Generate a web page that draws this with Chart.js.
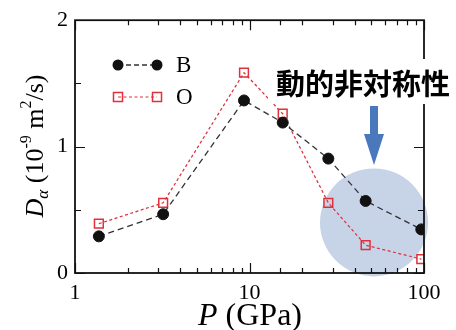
<!DOCTYPE html>
<html>
<head>
<meta charset="utf-8">
<script src="https://cdn.jsdelivr.net/npm/chart.js@4"></script>
<style>
  html, body { margin: 0; padding: 0; background: #fff; }
  #wrap { width: 456px; height: 330px; }
</style>
</head>
<body>
<div id="wrap"><canvas id="c" width="456" height="330"></canvas></div>
<script>
// Pressure (GPa) and diffusion coefficients (10^-9 m^2/s)
const pressure = [1.37, 3.2, 9.3, 15.5, 28.3, 46.3, 96.5];
const diffB = [0.29, 0.465, 1.365, 1.19, 0.905, 0.57, 0.345];
const diffO = [0.39, 0.555, 1.585, 1.26, 0.555, 0.22, 0.11];
const seriesNames = ['B', 'O'];
const xTickLabels = [1, 10, 100];
const yTickLabels = [0, 1, 2];
const noteText = '動的非対称性';

const SERIF = '"Liberation Serif", "Times New Roman", serif';
const BLACK = '#111';
const RED = '#e0303c';

const toPts = (xs, ys) => xs.map((x, i) => ({ x: x, y: ys[i] }));

// Inward tick marks on all four sides plus the axis frame
const framePlugin = {
  id: 'frame',
  afterDatasetsDraw(chart) {
    const { ctx, chartArea: a, scales } = chart;
    ctx.save();
    ctx.strokeStyle = BLACK;
    ctx.lineWidth = 1.2;
    scales.x.ticks.forEach(t => {
      const px = Math.round(scales.x.getPixelForValue(t.value)) + 0.5;
      const lg = Math.log10(t.value);
      const len = Math.abs(lg - Math.round(lg)) < 1e-9 ? 10 : 5;
      ctx.beginPath();
      ctx.moveTo(px, a.bottom); ctx.lineTo(px, a.bottom - len);
      ctx.moveTo(px, a.top); ctx.lineTo(px, a.top + len);
      ctx.stroke();
    });
    scales.y.ticks.forEach(t => {
      const py = Math.round(scales.y.getPixelForValue(t.value)) + 0.5;
      const len = Number.isInteger(t.value) ? 10 : 6;
      ctx.beginPath();
      ctx.moveTo(a.left, py); ctx.lineTo(a.left + len, py);
      ctx.moveTo(a.right, py); ctx.lineTo(a.right - len, py);
      ctx.stroke();
    });
    ctx.lineWidth = 1.8;
    ctx.strokeRect(a.left, a.top, a.right - a.left, a.bottom - a.top);
    ctx.restore();
  }
};

// Shaded region, arrow and note for the high-pressure range
const notePlugin = {
  id: 'note',
  beforeDatasetsDraw(chart) {
    const { ctx, scales } = chart;
    const cx = scales.x.getPixelForValue(51.7);
    const cy = scales.y.getPixelForValue(0.40);
    ctx.save();
    ctx.fillStyle = 'rgba(194, 207, 229, 0.92)';
    ctx.beginPath();
    ctx.arc(cx, cy, 54, 0, Math.PI * 2);
    ctx.fill();
    ctx.restore();
  },
  afterDraw(chart) {
    const { ctx, scales } = chart;
    const ax = scales.x.getPixelForValue(51.7);
    ctx.save();
    // white band behind the note
    ctx.fillStyle = '#fff';
    ctx.fillRect(268, 59, 188, 45);
    ctx.font = 'bold 29px "Noto Sans CJK JP", sans-serif';
    ctx.fillStyle = '#000';
    ctx.textAlign = 'center';
    ctx.textBaseline = 'middle';
    ctx.fillText(noteText, 363, 84);
    // arrow
    ctx.fillStyle = '#4a78bd';
    ctx.beginPath();
    ctx.moveTo(ax - 4, 106);
    ctx.lineTo(ax + 4, 106);
    ctx.lineTo(ax + 4, 134);
    ctx.lineTo(ax + 10, 134);
    ctx.lineTo(ax, 165);
    ctx.lineTo(ax - 10, 134);
    ctx.lineTo(ax - 4, 134);
    ctx.closePath();
    ctx.fill();
    ctx.restore();
  }
};

// Legend with a marker at each end of a dashed segment
const legendPlugin = {
  id: 'legendMarks',
  afterDraw(chart) {
    const { ctx } = chart;
    ctx.save();
    const x0 = 118, x1 = 157;
    // B
    let y = 65;
    ctx.strokeStyle = '#333'; ctx.lineWidth = 1.3; ctx.setLineDash([5, 3]);
    ctx.beginPath(); ctx.moveTo(x0, y); ctx.lineTo(x1, y); ctx.stroke();
    ctx.setLineDash([]);
    ctx.fillStyle = BLACK;
    [x0, x1].forEach(x => { ctx.beginPath(); ctx.arc(x, y, 5.5, 0, Math.PI * 2); ctx.fill(); });
    // O
    y = 97;
    ctx.strokeStyle = RED; ctx.lineWidth = 1.2; ctx.setLineDash([3, 2.5]);
    ctx.beginPath(); ctx.moveTo(x0, y); ctx.lineTo(x1, y); ctx.stroke();
    ctx.setLineDash([]);
    ctx.lineWidth = 1.5;
    [x0, x1].forEach(x => { ctx.strokeRect(x - 4.5, y - 4.5, 9, 9); });
    ctx.fillStyle = '#000';
    ctx.font = '23px ' + SERIF;
    ctx.textAlign = 'left'; ctx.textBaseline = 'middle';
    ctx.fillText(seriesNames[0], 176, 66);
    ctx.fillText(seriesNames[1], 176, 98);
    ctx.restore();
  }
};

// Axis titles with italics, subscript and superscripts
const titlePlugin = {
  id: 'titles',
  afterDraw(chart) {
    const { ctx } = chart;
    ctx.save();
    ctx.fillStyle = '#000';
    ctx.textBaseline = 'alphabetic';
    // x title: P (GPa)
    const big = '32px ' + SERIF, bigI = 'italic 32px ' + SERIF;
    ctx.font = bigI; const wP = ctx.measureText('P').width;
    ctx.font = big; const wR = ctx.measureText(' (GPa)').width;
    let x = 250 - (wP + wR) / 2;
    ctx.font = bigI; ctx.fillText('P', x, 325);
    ctx.font = big; ctx.fillText(' (GPa)', x + wP, 325);

    // y title: D_alpha (10^-9 m^2/s), rotated
    const parts = [
      { t: 'D', f: 'italic 26px ' + SERIF, dy: 0 },
      { t: 'α', f: 'italic 17px ' + SERIF, dy: 5 },
      { t: ' (10', f: '26px ' + SERIF, dy: 0 },
      { t: '-9', f: '16px ' + SERIF, dy: -12 },
      { t: ' m', f: '26px ' + SERIF, dy: 0 },
      { t: '2', f: '16px ' + SERIF, dy: -12 },
      { t: '/s)', f: '26px ' + SERIF, dy: 0 }
    ];
    let total = 0;
    parts.forEach(p => { ctx.font = p.f; p.w = ctx.measureText(p.t).width; total += p.w; });
    ctx.translate(43, 146);
    ctx.rotate(-Math.PI / 2);
    let px = -total / 2;
    parts.forEach(p => { ctx.font = p.f; ctx.fillText(p.t, px, p.dy); px += p.w; });
    ctx.restore();
  }
};

new Chart(document.getElementById('c'), {
  type: 'scatter',
  data: {
    datasets: [
      {
        label: seriesNames[0],
        data: toPts(pressure, diffB),
        showLine: true,
        borderColor: '#333',
        borderWidth: 1.3,
        borderDash: [6, 4],
        pointStyle: 'circle',
        pointRadius: 5.5,
        pointBackgroundColor: BLACK,
        pointBorderColor: BLACK,
        pointBorderWidth: 1
      },
      {
        label: seriesNames[1],
        data: toPts(pressure, diffO),
        showLine: true,
        borderColor: RED,
        borderWidth: 1.25,
        borderDash: [3, 2.5],
        pointStyle: 'rect',
        pointRadius: 6.2,
        pointBackgroundColor: 'rgba(0,0,0,0)',
        pointBorderColor: RED,
        pointBorderWidth: 1.5
      }
    ]
  },
  options: {
    responsive: false,
    animation: false,
    devicePixelRatio: 1,
    layout: { padding: { left: 0, top: 18, right: 32, bottom: 0 } },
    plugins: { legend: { display: false }, tooltip: { enabled: false } },
    scales: {
      x: {
        type: 'logarithmic',
        min: 1, max: 100,
        grid: { display: false, drawTicks: false },
        border: { display: false },
        afterFit(scale) { scale.height = 57; },
        ticks: {
          autoSkip: false,
          maxRotation: 0,
          padding: 7,
          color: '#000',
          font: { family: SERIF, size: 22 },
          callback: v => (xTickLabels.includes(v) ? String(v) : '')
        }
      },
      y: {
        min: 0, max: 2,
        grid: { display: false, drawTicks: false },
        border: { display: false },
        afterFit(scale) { scale.width = 75; },
        ticks: {
          stepSize: 0.5,
          padding: 7,
          color: '#000',
          font: { family: SERIF, size: 22 },
          callback: v => (yTickLabels.includes(v) ? String(v) : '')
        }
      }
    }
  },
  plugins: [notePlugin, framePlugin, legendPlugin, titlePlugin]
});
</script>
</body>
</html>
